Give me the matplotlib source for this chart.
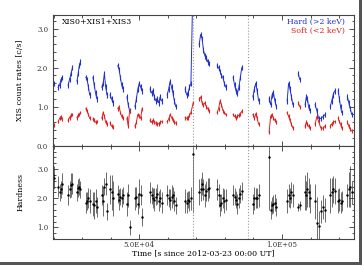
import numpy as np
import matplotlib
matplotlib.use('Agg')
import matplotlib.pyplot as plt
from matplotlib.ticker import MultipleLocator, FixedLocator, FuncFormatter
from matplotlib.patches import Rectangle

# time bins [s since 2012-03-23 00:00 UT], one row per orbit segment
time = [
    19900, 20300,
    21600, 22100, 22600, 23100,
    25100, 25600, 26100, 26600,
    28200, 28600, 29000, 29400,
    31300, 31750, 32200, 32650,
    33800, 34250, 34700, 35150,
    36900, 37350, 37800, 38250, 38700,
    39800, 40300, 40800,
    42500, 42950, 43400, 43850, 44300,
    45700, 46150, 46600,
    48500, 49000, 49500, 50000, 50500, 51000,
    53800, 54300, 54800, 55300, 55800, 56300, 56800, 57300, 57800,
    59800, 60300, 60800, 61300, 61800, 62300, 62800,
    66100, 66600, 67100, 67600, 68100, 68900,
    71000, 71500, 72000, 72500, 73000, 73500, 74000, 74500,
    77300, 77800, 78300, 78800, 79300, 79800, 80300,
    82900, 83400, 83900, 84400, 84900, 85400, 85900,
    89800, 90300, 90800, 91300, 91800,
    95500, 96000, 96500, 97000, 97500, 98000,
    101800, 102300, 102800, 103300, 103800,
    105700, 106200,
    108100, 108500, 108900, 109300, 109700,
    111600, 112200, 112800, 113600, 114400, 115100,
    116900, 117400, 117900, 118400,
    119700, 120100, 120500, 120900,
    122900, 123400, 123900, 124400,
]
hard = [
    1.55, 1.6,
    1.5, 1.55, 1.7, 1.75,
    1.55, 1.7, 1.85, 2.0,
    1.65, 1.85, 2.05, 2.15,
    1.75, 1.7, 1.5, 1.3,
    1.75, 1.55, 1.35, 1.2,
    1.5, 1.6, 1.85, 1.5, 1.3,
    1.3, 1.2, 1.1,
    2.05, 1.95, 1.75, 1.55, 1.45,
    1.25, 1.05, 0.9,
    1.0, 1.2, 1.45, 1.6, 1.5, 1.4,
    1.45, 1.35, 1.4, 1.25, 1.15, 1.2, 1.1, 1.25, 1.15,
    1.3, 1.45, 1.65, 1.5, 1.35, 1.15, 1.0,
    1.45, 1.3, 1.35, 1.5, 1.6, 4.5,
    2.6, 2.85, 2.75, 2.45, 2.3, 2.25, 2.15, 2.1,
    2.05, 2.0, 1.9, 1.8, 1.75, 1.6, 1.5,
    1.75, 1.55, 1.4, 1.35, 1.5, 1.75, 2.0,
    1.25, 1.45, 1.6, 1.4, 1.15,
    1.2, 1.05, 1.3, 1.35, 1.15, 1.0,
    1.15, 1.6, 1.45, 1.25, 1.05,
    1.85, 1.7,
    1.05, 1.25, 1.2, 1.0, 0.9,
    1.05, 0.9, 0.7, 0.7, 0.75, 0.8,
    1.0, 1.15, 1.3, 1.4,
    1.4, 1.2, 1.0, 0.85,
    1.25, 1.1, 0.95, 0.8,
]
soft = [
    0.5, 0.52,
    0.62, 0.7, 0.74, 0.68,
    0.65, 0.72, 0.78, 0.8,
    0.72, 0.78, 0.8, 0.85,
    0.95, 0.9, 0.8, 0.7,
    0.68, 0.65, 0.6, 0.62,
    0.7, 0.85, 0.75, 0.6, 0.55,
    0.58, 0.5, 0.48,
    0.95, 1.0, 0.85, 0.75, 0.7,
    0.7, 0.5, 0.88,
    0.5, 0.6, 0.8, 0.75, 0.7, 0.95,
    0.65, 0.6, 0.65, 0.6, 0.58, 0.55, 0.56, 0.6, 0.62,
    0.62, 0.68, 0.8, 0.72, 0.66, 0.6, 0.58,
    0.72, 0.7, 0.72, 0.78, 0.85, 1.1,
    1.2, 1.25, 1.1, 1.05, 1.1, 1.0, 0.95, 0.9,
    0.85, 0.95, 1.15, 1.05, 0.9, 0.85, 0.8,
    0.8, 0.75, 0.72, 0.75, 0.78, 0.82, 0.88,
    0.8, 0.7, 0.82, 0.7, 0.55,
    0.35, 0.75, 0.8, 0.7, 0.65, 0.6,
    0.85, 0.75, 0.65, 0.55, 0.45,
    1.1, 1.0,
    0.5, 0.6, 0.55, 0.5, 0.45,
    0.55, 0.75, 0.62, 0.45, 0.45, 0.5,
    0.5, 0.55, 0.6, 0.62,
    0.7, 0.62, 0.55, 0.45,
    0.6, 0.5, 0.42, 0.38,
]
hardness = [
    2.8, 2.7,
    2.4, 2.2, 2.3, 2.5,
    2.1, 2.3, 2.45, 2.5,
    2.2, 2.35, 2.4, 2.3,
    1.85, 1.9, 2.0, 1.9,
    1.8, 1.75, 1.9, 1.7,
    2.1, 1.9, 2.4, 2.5, 1.55,
    2.3, 2.2, 2.0,
    2.15, 1.95, 2.05, 2.0, 2.1,
    1.8, 2.1, 1.0,
    2.0, 2.05, 1.8, 2.15, 2.1, 1.35,
    2.2, 2.1, 2.0, 1.95, 2.05, 2.15, 1.9, 2.0, 1.85,
    2.1, 2.0, 1.95, 2.05, 2.1, 1.9, 1.75,
    1.9, 1.85, 1.95, 1.9, 2.0, 3.5,
    2.2, 2.3, 2.5, 2.3, 2.1, 2.25, 2.3, 2.35,
    2.3, 2.1, 1.75, 1.85, 2.0, 1.9, 1.95,
    2.1, 2.05, 1.95, 1.8, 2.0, 2.15, 2.25,
    1.8, 2.0, 2.0, 2.0, 2.1,
    3.4, 1.6, 1.75, 1.8, 1.85, 1.7,
    1.9, 2.1, 2.0, 2.2, 2.1,
    1.7, 1.75,
    2.2, 2.1, 2.3, 2.2, 2.0,
    1.9, 1.15, 1.05, 1.55, 1.7, 1.6,
    2.1, 2.2, 2.3, 2.25,
    1.9, 1.95, 1.85, 1.9,
    2.1, 2.3, 2.4, 2.2,
]
hardness_err = [
    0.4, 0.4,
    0.35, 0.3, 0.3, 0.35,
    0.35, 0.3, 0.4, 0.35,
    0.3, 0.3, 0.3, 0.3,
    0.35, 0.3, 0.35, 0.4,
    0.4, 0.45, 0.4, 0.35,
    0.35, 0.5, 0.3, 0.4, 0.3,
    0.5, 0.6, 0.6,
    0.3, 0.35, 0.3, 0.3, 0.3,
    0.4, 0.4, 0.25,
    0.4, 0.35, 0.35, 0.5, 0.35, 0.3,
    0.35, 0.3, 0.35, 0.4, 0.3, 0.35, 0.35, 0.3, 0.35,
    0.35, 0.3, 0.35, 0.4, 0.3, 0.35, 0.3,
    0.4, 0.35, 0.3, 0.35, 0.4, 2.0,
    0.45, 0.4, 0.4, 0.35, 0.4, 0.35, 0.4, 0.35,
    0.35, 0.4, 0.35, 0.3, 0.35, 0.4, 0.35,
    0.35, 0.3, 0.3, 0.35, 0.35, 0.3, 0.3,
    0.35, 0.4, 0.35, 0.35, 0.4,
    1.8, 0.3, 0.3, 0.3, 0.3, 0.3,
    0.4, 0.4, 0.35, 0.35, 0.4,
    0.15, 0.15,
    0.6, 0.5, 0.6, 0.5, 0.5,
    0.6, 0.9, 0.5, 0.4, 0.4, 0.4,
    0.6, 0.5, 0.45, 0.45,
    0.4, 0.4, 0.35, 0.35,
    0.4, 0.6, 0.7, 0.4,
]
hard_err = 0.07
soft_err = 0.05

x_ticks = [50000, 100000]
x_tick_labels = ['5.0E+04', '1.0E+05']
event_lines = [69000, 88100]

blue = '#2233cc'
red = '#dd2222'


def with_gaps(t, *series):
    # break the curves between orbits
    t = np.asarray(t, dtype=float)
    idx = np.where(np.diff(t) > 1000)[0] + 1
    out = [np.insert(t, idx, np.nan)]
    for s in series:
        out.append(np.insert(np.asarray(s, dtype=float), idx, np.nan))
    return out


plt.rcParams['font.family'] = 'DejaVu Serif'
plt.rcParams['font.size'] = 5.6

fig = plt.figure(figsize=(3.64, 2.66), dpi=100)
ax1 = fig.add_axes([0.1456, 0.4523, 0.8261, 0.4913])
ax2 = fig.add_axes([0.1456, 0.1015, 0.8261, 0.3508], sharex=ax1)

t, h, s = with_gaps(time, hard, soft)
ax1.errorbar(t, h, yerr=hard_err, fmt='-', color=blue, lw=0.7, elinewidth=0.8, capsize=0)
ax1.errorbar(t, s, yerr=soft_err, fmt='-', color=red, lw=0.7, elinewidth=0.8, capsize=0)
ax2.errorbar(time, hardness, yerr=hardness_err, fmt='.', color='black', ms=1.5,
             ecolor='#333333', elinewidth=0.5, capsize=0)

for ax in (ax1, ax2):
    for xv in event_lines:
        ax.axvline(xv, color='#999999', ls=':', lw=0.8)
    ax.tick_params(which='both', direction='in', top=True, right=True,
                   labelsize=5, width=0.6, colors='#333333')
    ax.tick_params(which='major', length=3.5)
    ax.tick_params(which='minor', length=1.8)
    for sp in ax.spines.values():
        sp.set_linewidth(0.8)
        sp.set_color('#444444')
    ax.yaxis.set_minor_locator(MultipleLocator(0.2))
    ax.yaxis.set_major_formatter(FuncFormatter(lambda v, p: '%.1f' % v))

ax1.set_xlim(19800, 125100)
ax1.xaxis.set_major_locator(FixedLocator(x_ticks))
ax1.xaxis.set_minor_locator(MultipleLocator(10000))
ax1.tick_params(labelbottom=False)
ax2.set_xticks(x_ticks)
ax2.set_xticklabels(x_tick_labels)
ax2.tick_params(axis='x', pad=1.5)

ax1.set_ylim(0, 3.35)
ax1.yaxis.set_major_locator(FixedLocator([0, 1, 2, 3]))
ax2.set_ylim(0.6, 3.8)
ax2.yaxis.set_major_locator(FixedLocator([1, 2, 3]))

ax1.set_ylabel('XIS count rates [c/s]')
ax2.set_ylabel('Hardness')
ax2.set_xlabel('Time [s since 2012-03-23 00:00 UT]', labelpad=0)
ax1.yaxis.set_label_coords(-0.095, 0.5)
ax2.yaxis.set_label_coords(-0.095, 0.5)

ax1.text(0.03, 0.975, 'XIS0+XIS1+XIS3', transform=ax1.transAxes, va='top', ha='left')
ax1.text(0.97, 0.975, 'Hard (>2 keV)', transform=ax1.transAxes, va='top', ha='right', color=blue)
ax1.text(0.97, 0.91, 'Soft (<2 keV)', transform=ax1.transAxes, va='top', ha='right', color=red)

# picture frame shadow along the bottom and right edges
fig.add_artist(Rectangle((0.0, 0.005), 0.995, 0.011, transform=fig.transFigure,
                         color='#555555', lw=0))
fig.add_artist(Rectangle((0.986, 0.005), 0.009, 0.995, transform=fig.transFigure,
                         color='#555555', lw=0))

fig.savefig('out.png', dpi=100)
